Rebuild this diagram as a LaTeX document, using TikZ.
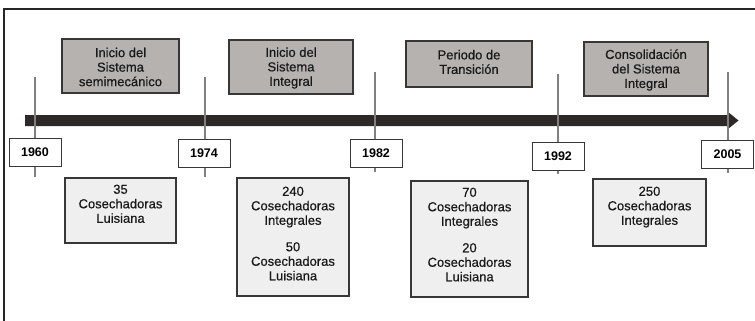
\documentclass[tikz,border=0pt]{standalone}
\usepackage{fontspec}
\setmainfont{Liberation Sans}
\newfontfamily\medfont{Liberation Sans}[FakeBold=0.5]
\definecolor{topfill}{RGB}{181,178,175}
\definecolor{botfill}{RGB}{239,239,239}
\definecolor{barc}{RGB}{45,41,40}
\definecolor{tickc}{RGB}{128,128,128}
\definecolor{edgec}{RGB}{55,55,55}
\newcommand{\boxfont}{\medfont\fontsize{13}{14.5}\selectfont}
\begin{document}
\begin{tikzpicture}[x=1pt,y=-1pt,
  frame/.style={draw=black!85, line width=1.6pt},
  timebar/.style={fill=barc},
  ticker/.style={draw=tickc, line width=1.8pt},
  phasebox/.style={draw=edgec, line width=1.2pt, fill=topfill, inner sep=0pt},
  countbox/.style={draw=edgec, line width=1.2pt, fill=botfill, inner sep=0pt},
  yearbox/.style={draw=edgec, line width=0.9pt, fill=white, minimum width=52pt, minimum height=28pt, inner sep=0pt, font=\bfseries\fontsize{12.5}{14}\selectfont},
  label/.style={align=center, inner sep=0pt, font=\boxfont, text=black!90}
]
\useasboundingbox (0,0) rectangle (755,321);
% frame
\coordinate (fa) at (4,322);
\coordinate (fb) at (4,9);
\coordinate (fc) at (755,9);
\draw[frame] (fa) -- (fb) -- (fc);
% time bar with arrow head
\fill[timebar] (25,115) -- (728,115) -- (728,112) -- (738.5,120.5) -- (728,129) -- (728,126) -- (25,126) -- cycle;
% ticks
\coordinate (t1a) at (35,77);   \coordinate (t1b) at (35,177);
\coordinate (t2a) at (205,77);  \coordinate (t2b) at (205,177);
\coordinate (t3a) at (375,72);  \coordinate (t3b) at (375,172);
\coordinate (t4a) at (558,74);  \coordinate (t4b) at (558,174);
\coordinate (t5a) at (728,72);  \coordinate (t5b) at (728,173);
\draw[ticker] (t1a) -- (t1b);
\draw[ticker] (t2a) -- (t2b);
\draw[ticker] (t3a) -- (t3b);
\draw[ticker] (t4a) -- (t4b);
\draw[ticker] (t5a) -- (t5b);
% year boxes
\node[yearbox] (y1960) at (35,152.5) {1960};
\node[yearbox] (y1974) at (204,153) {1974};
\node[yearbox] (y1982) at (376,153) {1982};
\node[yearbox] (y1992) at (558,156) {1992};
\node[yearbox] (y2005) at (727.5,154) {2005};
% top phase boxes
\node[phasebox, minimum width=117pt, minimum height=54pt] (p1) at (120.5,66) {};
\node[label] (p1t) at (120.5,67) {Inicio del\\Sistema\\semimecánico};
\node[phasebox, minimum width=124pt, minimum height=54pt] (p2) at (291,67) {};
\node[label] (p2t) at (291,68) {Inicio del\\Sistema\\Integral};
\node[phasebox, minimum width=126pt, minimum height=46pt] (p3) at (469,64) {};
\node[label] (p3t) at (469,62) {Periodo de\\Transición};
\node[phasebox, minimum width=124pt, minimum height=54pt] (p4) at (646,69) {};
\node[label] (p4t) at (646,70) {Consolidación\\del Sistema\\Integral};
% bottom count boxes
\node[countbox, minimum width=111pt, minimum height=65pt] (c1) at (120.5,210.5) {};
\node[label, anchor=north] (c1t) at (120.5,184.5) {35\\Cosechadoras\\Luisiana};
\node[countbox, minimum width=112pt, minimum height=118pt] (c2) at (293,237) {};
\node[label, anchor=north] (c2t) at (293,186.5) {240\\Cosechadoras\\Integrales\\[12pt]50\\Cosechadoras\\Luisiana};
\node[countbox, minimum width=117pt, minimum height=116pt] (c3) at (469.5,239) {};
\node[label, anchor=north] (c3t) at (469.5,187.5) {70\\Cosechadoras\\Integrales\\[12pt]20\\Cosechadoras\\Luisiana};
\node[countbox, minimum width=113pt, minimum height=67pt] (c4) at (649.5,212.5) {};
\node[label, anchor=north] (c4t) at (649.5,186.5) {250\\Cosechadoras\\Integrales};
\end{tikzpicture}
\end{document}
